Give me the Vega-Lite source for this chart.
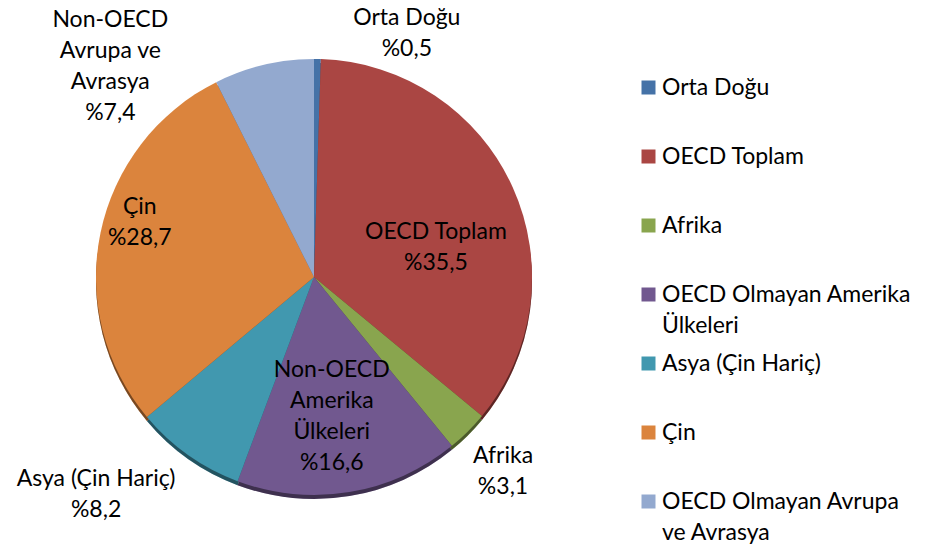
{
  "$schema": "https://vega.github.io/schema/vega-lite/v6.json",
  "width": 628,
  "height": 554,
  "autosize": {"type": "none"},
  "padding": {"left": 0, "top": 0, "right": 298, "bottom": 0},
  "background": "white",
  "config": {"view": {"stroke": null}, "font": "Lato"},
  "data": {
    "values": [
      {"bolge": "Orta Doğu", "pay": 0.5, "sira": 1, "etiket": "Orta Doğu\n%0,5"},
      {"bolge": "OECD Toplam", "pay": 35.5, "sira": 2, "etiket": "OECD Toplam\n%35,5"},
      {"bolge": "Afrika", "pay": 3.1, "sira": 3, "etiket": "Afrika\n%3,1"},
      {"bolge": "OECD Olmayan Amerika Ülkeleri", "pay": 16.6, "sira": 4, "etiket": "Non-OECD\nAmerika\nÜlkeleri\n%16,6"},
      {"bolge": "Asya (Çin Hariç)", "pay": 8.2, "sira": 5, "etiket": "Asya (Çin Hariç)\n%8,2"},
      {"bolge": "Çin", "pay": 28.7, "sira": 6, "etiket": "Çin\n%28,7"},
      {"bolge": "OECD Olmayan Avrupa ve Avrasya", "pay": 7.4, "sira": 7, "etiket": "Non-OECD\nAvrupa ve\nAvrasya\n%7,4"}
    ]
  },
  "encoding": {
    "theta": {"field": "pay", "type": "quantitative", "stack": true},
    "order": {"field": "sira", "type": "quantitative"}
  },
  "layer": [
    {
      "mark": {"type": "arc", "outerRadius": 218, "y": {"expr": "height/2 + 4"}},
      "encoding": {
        "color": {"field": "bolge", "type": "nominal",
          "scale": {"domain": ["Orta Doğu", "OECD Toplam", "Afrika", "OECD Olmayan Amerika Ülkeleri", "Asya (Çin Hariç)", "Çin", "OECD Olmayan Avrupa ve Avrasya"],
                    "range": ["#4572A7", "#AA4643", "#89A54E", "#71588F", "#4198AF", "#DB843D", "#93A9CF"]},
          "legend": {
            "orient": "none", "legendX": 637, "legendY": 76, "title": null,
            "symbolType": "square", "symbolSize": 196, "symbolStrokeWidth": 0, "symbolOpacity": 1,
            "labelFont": "Lato", "labelFontSize": 23, "labelColor": "black", "labelOffset": 2, "labelLimit": 400,
            "rowPadding": 14, "padding": 0,
            "labelExpr": "datum.label == 'OECD Olmayan Amerika Ülkeleri' ? ['OECD Olmayan Amerika', 'Ülkeleri'] : datum.label == 'OECD Olmayan Avrupa ve Avrasya' ? ['OECD Olmayan Avrupa', 've Avrasya'] : [datum.label, '']",
            "encode": {"labels": {"update": {"lineHeight": {"value": 31}}}}
          }
        }
      }
    },
    {
      "mark": {"type": "arc", "outerRadius": 218, "y": {"expr": "height/2 + 4"}, "color": "black", "opacity": 0.45},
      "encoding": {}
    },
    {
      "mark": {"type": "arc", "outerRadius": 218},
      "encoding": {
        "color": {"field": "bolge", "type": "nominal"}
      }
    },
    {
      "mark": {"type": "text", "radius": 244, "dx": 89, "dy": -15.5, "fontSize": 23, "font": "Lato", "lineHeight": 31, "lineBreak": "\n", "align": "center", "baseline": "middle", "color": "black"},
      "encoding": {"text": {"condition": {"test": "datum.bolge === 'Orta Doğu'", "field": "etiket", "type": "nominal"}, "value": ""}}
    },
    {
      "mark": {"type": "text", "radius": 125, "dx": 8, "dy": 6.5, "fontSize": 23, "font": "Lato", "lineHeight": 31, "lineBreak": "\n", "align": "center", "baseline": "middle", "color": "black"},
      "encoding": {"text": {"condition": {"test": "datum.bolge === 'OECD Toplam'", "field": "etiket", "type": "nominal"}, "value": ""}}
    },
    {
      "mark": {"type": "text", "radius": 271, "dx": -2, "dy": -13.5, "fontSize": 23, "font": "Lato", "lineHeight": 31, "lineBreak": "\n", "align": "center", "baseline": "middle", "color": "black"},
      "encoding": {"text": {"condition": {"test": "datum.bolge === 'Afrika'", "field": "etiket", "type": "nominal"}, "value": ""}}
    },
    {
      "mark": {"type": "text", "radius": 140, "dx": -5, "dy": -45.5, "fontSize": 23, "font": "Lato", "lineHeight": 31, "lineBreak": "\n", "align": "center", "baseline": "middle", "color": "black"},
      "encoding": {"text": {"condition": {"test": "datum.bolge === 'OECD Olmayan Amerika Ülkeleri'", "field": "etiket", "type": "nominal"}, "value": ""}}
    },
    {
      "mark": {"type": "text", "radius": 270, "dx": -62, "dy": -18.5, "fontSize": 23, "font": "Lato", "lineHeight": 31, "lineBreak": "\n", "align": "center", "baseline": "middle", "color": "black"},
      "encoding": {"text": {"condition": {"test": "datum.bolge === 'Asya (Çin Hariç)'", "field": "etiket", "type": "nominal"}, "value": ""}}
    },
    {
      "mark": {"type": "text", "radius": 182, "dx": 4, "dy": -33.5, "fontSize": 23, "font": "Lato", "lineHeight": 31, "lineBreak": "\n", "align": "center", "baseline": "middle", "color": "black"},
      "encoding": {"text": {"condition": {"test": "datum.bolge === 'Çin'", "field": "etiket", "type": "nominal"}, "value": ""}}
    },
    {
      "mark": {"type": "text", "radius": 220, "dx": -153, "dy": -42.5, "fontSize": 23, "font": "Lato", "lineHeight": 31, "lineBreak": "\n", "align": "center", "baseline": "middle", "color": "black"},
      "encoding": {"text": {"condition": {"test": "datum.bolge === 'OECD Olmayan Avrupa ve Avrasya'", "field": "etiket", "type": "nominal"}, "value": ""}}
    }
  ]
}
